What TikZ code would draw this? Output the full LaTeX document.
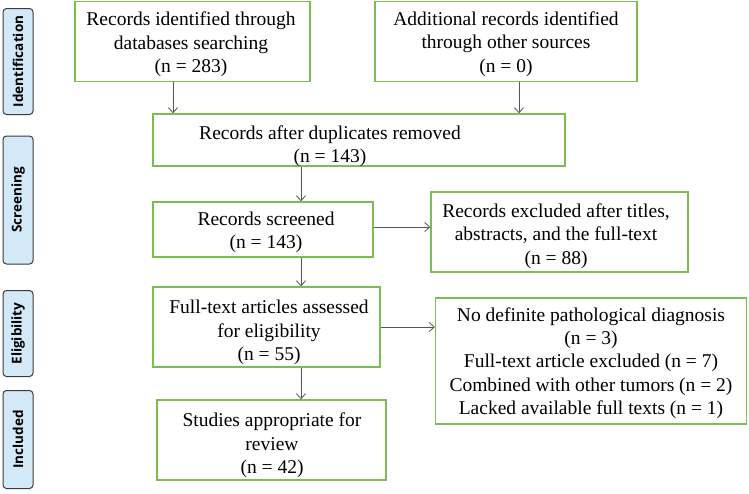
\documentclass[tikz,border=0pt]{standalone}
\usepackage{fontspec}
\setmainfont{Liberation Serif}
\newfontfamily\sidefont{Open Sans}
\usetikzlibrary{arrows.meta}
\definecolor{boxgreen}{HTML}{7DBE52}
\definecolor{sidefill}{HTML}{D3E9F8}
\definecolor{sideline}{HTML}{3C3C3C}
\definecolor{arrgray}{HTML}{555555}
\tikzset{
  flowbox/.style={draw=boxgreen, line width=1.4pt, inner sep=0pt},
  flowtext/.style={inner sep=0pt, align=center, font=\fontsize{19.5}{23.3}\selectfont},
  sidebox/.style={draw=sideline, fill=sidefill, line width=1pt, rounded corners=3.5pt,
    rotate=90, inner sep=0pt, font=\sidefont\bfseries\fontsize{13.5}{15}\selectfont},
  arr/.style={draw=arrgray, line width=0.8pt, -{Straight Barb[length=5pt,width=9pt]}}
}
\begin{document}
\begin{tikzpicture}[x=1pt,y=-1pt]
\useasboundingbox (0,0) rectangle (749,493);
% side labels
\node[sidebox, minimum width=106pt, minimum height=30pt] (sid) at (18,61.5) {Identification};
\node[sidebox, minimum width=128pt, minimum height=30pt] (ssc) at (18,200) {Screening};
\node[sidebox, minimum width=86pt, minimum height=30pt] (sel) at (18,333.5) {Eligibility};
\node[sidebox, minimum width=98pt, minimum height=30pt] (sin) at (18,439.5) {Included};
% boxes
\node[flowbox, minimum width=235pt, minimum height=80pt] (b1) at (192.5,41.5) {};
\node[flowtext] (t1) at (191,44.5) {Records identified through\\databases searching\\(n = 283)};
\node[flowbox, minimum width=262pt, minimum height=80pt] (b2) at (506,41.5) {};
\node[flowtext] (t2) at (506,44) {Additional records identified\\through other sources\\(n = 0)};
\node[flowbox, minimum width=412pt, minimum height=52pt] (b3) at (359,140) {};
\node[flowtext] (t3) at (330,146) {Records after duplicates removed\\(n = 143)};
\node[flowbox, minimum width=220pt, minimum height=55pt] (b4) at (263,229.5) {};
\node[flowtext] (t4) at (266,232.5) {Records screened\\(n = 143)};
\node[flowbox, minimum width=257pt, minimum height=80pt] (b5) at (559.5,232) {};
\node[flowtext] (t5) at (556,236) {Records excluded after titles,\\abstracts, and the full-text\\(n = 88)};
\node[flowbox, minimum width=227pt, minimum height=80pt] (b6) at (266.5,327) {};
\node[flowtext] (t6) at (269,332.5) {Full-text articles assessed\\for eligibility\\(n = 55)};
\node[flowbox, minimum width=311pt, minimum height=126pt] (b7) at (591,361) {};
\node[flowtext] (t7) at (591,363) {No definite pathological diagnosis\\(n = 3)\\Full-text article excluded (n = 7)\\Combined with other tumors (n = 2)\\Lacked available full texts (n = 1)};
\node[flowbox, minimum width=229pt, minimum height=80pt] (b8) at (271.5,440) {};
\node[flowtext] (t8) at (272,445.5) {Studies appropriate for\\review\\(n = 42)};
% connectors
\coordinate (c1) at (173,0);
\coordinate (c2) at (519,0);
\coordinate (c3) at (301,0);
\draw[arr] (b1.south -| c1) -- (b3.north -| c1);
\draw[arr] (b2.south -| c2) -- (b3.north -| c2);
\draw[arr] (b3.south -| c3) -- (b4.north -| c3);
\draw[arr] (b4.south -| c3) -- (b6.north -| c3);
\draw[arr] (b6.south -| c3) -- (b8.north -| c3);
\draw[arr] ([yshift=2.5pt]b4.east) -- ([yshift=2.5pt]b4.east -| b5.west);
\draw[arr] (b6.east) -- (b6.east -| b7.west);
\end{tikzpicture}
\end{document}
